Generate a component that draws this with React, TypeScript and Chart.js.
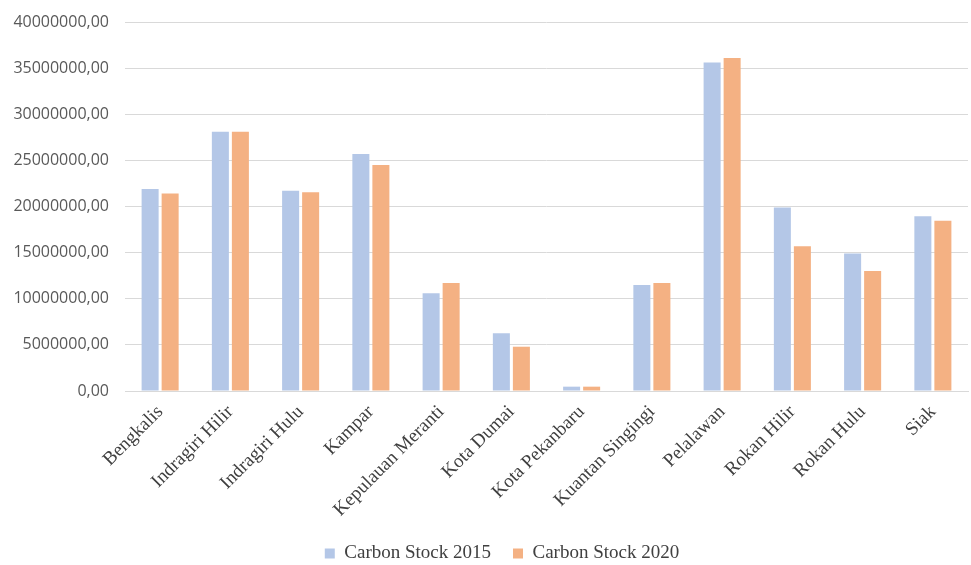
import React, { useEffect, useRef } from "react";
import { Chart, registerables } from "chart.js";

Chart.register(...registerables);

const categories = [
  "Bengkalis",
  "Indragiri Hilir",
  "Indragiri Hulu",
  "Kampar",
  "Kepulauan Meranti",
  "Kota Dumai",
  "Kota Pekanbaru",
  "Kuantan Singingi",
  "Pelalawan",
  "Rokan Hilir",
  "Rokan Hulu",
  "Siak",
];

const stock2015 = [21900000, 28100000, 21700000, 25700000, 10600000, 6270000, 470000, 11500000, 35600000, 19900000, 14900000, 18950000];
const stock2020 = [21400000, 28100000, 21550000, 24500000, 11700000, 4800000, 470000, 11700000, 36100000, 15700000, 13000000, 18450000];

const seriesNames = ["Carbon Stock 2015", "Carbon Stock 2020"];
const yMax = 40000000;
const yStep = 5000000;

const shiftLegend = {
  id: "shiftLegend",
  afterLayout(chart: any) {
    const l = chart.legend;
    if (l) {
      l.left += 36;
      l.width -= 36;
    }
  },
};

export default function App() {
  const ref = useRef<HTMLCanvasElement | null>(null);
  useEffect(() => {
    if (!ref.current) return;
    const chart = new Chart(ref.current, {
      type: "bar",
      data: {
        labels: categories,
        datasets: [
          {
            label: seriesNames[0],
            data: stock2015,
            backgroundColor: "#B4C7E7",
            borderWidth: 0,
            barPercentage: 0.85,
            categoryPercentage: 0.57,
          },
          {
            label: seriesNames[1],
            data: stock2020,
            backgroundColor: "#F4B183",
            borderWidth: 0,
            barPercentage: 0.85,
            categoryPercentage: 0.57,
          },
        ],
      },
      plugins: [shiftLegend],
      options: {
        animation: false,
        responsive: true,
        maintainAspectRatio: false,
        layout: { autoPadding: false, padding: { top: 22, right: 3, left: 0, bottom: -8 } },
        plugins: {
          tooltip: { enabled: false },
          legend: {
            position: "bottom",
            labels: {
              boxWidth: 10,
              boxHeight: 10,
              padding: 22,
              color: "#404040",
              font: { family: "'Liberation Serif', serif", size: 19 },
            },
          },
        },
        scales: {
          x: {
            grid: { display: false },
            border: { display: true, color: "#d9d9d9" },
            ticks: {
              maxRotation: 45,
              minRotation: 45,
              color: "#404040",
              padding: 2,
              font: { family: "'Liberation Serif', serif", size: 19 },
            },
            afterFit: (s: any) => {
              s.height = 131;
            },
          },
          y: {
            min: 0,
            max: yMax,
            ticks: {
              stepSize: yStep,
              color: "#595959",
              padding: 4,
              font: { family: "'Open Sans', sans-serif", size: 16 },
              callback: (v: any) => Number(v).toFixed(2).replace(".", ","),
            },
            grid: {
              color: "#d9d9d9",
              drawTicks: true,
              tickLength: 12,
              tickColor: "rgba(0,0,0,0)",
            },
            border: { display: false },
            afterFit: (s: any) => {
              s.width = 125;
            },
          },
        },
      },
    });
    return () => chart.destroy();
  }, []);
  return (
    <div style={{ position: "fixed", left: 0, top: 0, width: 971, height: 565, background: "#fff" }}>
      <canvas ref={ref} />
    </div>
  );
}
